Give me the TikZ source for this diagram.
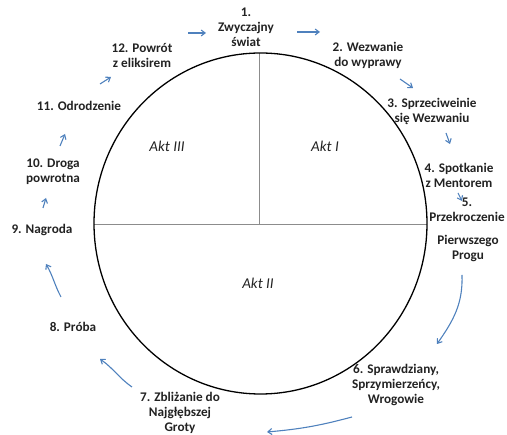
\documentclass[tikz,border=0pt]{standalone}
\usepackage{fontspec}
\setmainfont{Carlito}
\usetikzlibrary{arrows.meta}
\definecolor{arrblue}{HTML}{4F81BD}
\definecolor{txt}{HTML}{222222}
\begin{document}
\begin{tikzpicture}[x=1pt,y=-1pt,
  lab/.style={align=center,font=\fontsize{13.2}{15}\selectfont\bfseries,text=txt,inner sep=0pt},
  akt/.style={font=\fontsize{15}{17}\selectfont\itshape,text=txt,inner sep=0pt},
  flow/.style={draw=arrblue,line width=1.1pt,-{Straight Barb[length=4pt,width=6pt]}},
  divider/.style={draw=black!45,line width=0.9pt}]
\useasboundingbox (0,0) rectangle (507,435);
% circle and dividers
\coordinate (c) at (260.5,223.5);
\coordinate (top) at (259,53);
\coordinate (lft) at (94,224);
\coordinate (rgt) at (427,224);
\coordinate (mid) at (259,224);
\draw[divider] (top) -- (mid);
\draw[divider] (lft) -- (rgt);
\draw[line width=1.3pt] (c) ellipse [x radius=166.5, y radius=170.5];
% act labels
\node[akt] (a3) at (167,146) {Akt III};
\node[akt] (a1) at (325,146) {Akt I};
\node[akt] (a2) at (258,283) {Akt II};
% stage labels
\node[lab] (s1) at (246,27) {1.\\Zwyczajny\\świat};
\node[lab] (s2) at (368,55) {2. Wezwanie\\do wyprawy};
\node[lab] (s3) at (432,111) {3. Sprzeciweinie\\się Wezwaniu};
\node[lab] (s4) at (459,175) {4. Spotkanie\\z Mentorem};
\node[lab] (s5) at (467,210) {5.\\Przekroczenie};
\node[lab] (s5b) at (468,248) {Pierwszego\\Progu};
\node[lab] (s6) at (396,385) {6. Sprawdziany,\\Sprzymierzeńcy,\\Wrogowie};
\node[lab] (s7) at (180,413) {7. Zbliżanie do\\Najgłębszej\\Groty};
\node[lab] (s8) at (73,327) {8. Próba};
\node[lab] (s9) at (42,230) {9. Nagroda};
\node[lab] (s10) at (53,172) {10. Droga\\powrotna};
\node[lab] (s11) at (79,106) {11. Odrodzenie};
\node[lab] (s12) at (142,55) {12. Powrót\\z eliksirem};
% arrow end points
\coordinate (p12a) at (188,33); \coordinate (p12b) at (206,33);
\coordinate (p1a) at (297,32);  \coordinate (p1b) at (320,32);
\coordinate (p2a) at (400,79);  \coordinate (p2b) at (413,88);
\coordinate (p3a) at (446,133); \coordinate (p3b) at (450,144);
\coordinate (p4a) at (458,193); \coordinate (p4b) at (462,201);
\coordinate (p5a) at (462,275); \coordinate (p5b) at (437,344);
\coordinate (p6a) at (352,417); \coordinate (p6b) at (267,432);
\coordinate (p7a) at (132,387); \coordinate (p7b) at (100,359);
\coordinate (p8a) at (61,297);  \coordinate (p8b) at (46,264);
\coordinate (p9a) at (43,208);  \coordinate (p9b) at (46,198);
\coordinate (p10a) at (60,146); \coordinate (p10b) at (65,134);
\coordinate (p11a) at (100,84); \coordinate (p11b) at (111,77);
\draw[flow] (p12a) -- (p12b);
\draw[flow] (p1a) -- (p1b);
\draw[flow] (p2a) -- (p2b);
\draw[flow] (p3a) -- (p3b);
\draw[flow] (p4a) -- (p4b);
\draw[flow] (p5a) to[out=-88,in=55] (p5b);
\draw[flow] (p6a) to[out=195,in=5] (p6b);
\draw[flow] (p7a) to[out=145,in=-35] (p7b);
\draw[flow] (p8a) to[out=118,in=-60] (p8b);
\draw[flow] (p9a) -- (p9b);
\draw[flow] (p10a) -- (p10b);
\draw[flow] (p11a) -- (p11b);
\end{tikzpicture}
\end{document}
